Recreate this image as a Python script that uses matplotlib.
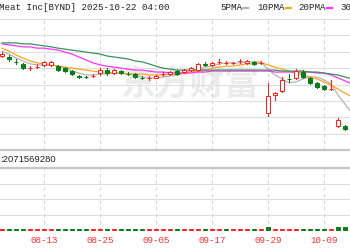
import matplotlib
matplotlib.use("Agg")
import matplotlib.pyplot as plt
from matplotlib.patches import Rectangle

# ---------------- data ----------------
dates = ["08-05","08-06","08-07","08-08","08-11","08-12","08-13","08-14","08-15",
         "08-18","08-19","08-20","08-21","08-22","08-25","08-26","08-27","08-28","08-29",
         "09-02","09-03","09-04","09-05","09-08","09-09","09-10","09-11","09-12",
         "09-15","09-16","09-17","09-18","09-19","09-22","09-23","09-24","09-25","09-26",
         "09-29","09-30","10-01","10-02","10-03","10-06","10-07","10-08","10-09","10-10",
         "10-13","10-14","10-15"]
tick_labels = ["08-13", "08-25", "09-05", "09-17", "09-29", "10-09"]

opens  = [2.87,2.84,2.70,2.63,2.49,2.52,2.60,2.60,2.56,2.50,2.41,2.25,2.24,2.25,2.35,2.44,2.35,2.41,2.33,
          2.32,2.21,2.19,2.21,2.31,2.32,2.41,2.38,2.44,2.44,2.63,2.60,2.68,2.65,2.65,2.71,2.66,2.69,2.65,
          1.13,1.68,1.80,2.18,2.20,2.38,2.20,2.05,1.95,1.85,0.73,0.73,0.64]
highs  = [2.99,2.90,2.78,2.66,2.56,2.63,2.72,2.72,2.60,2.53,2.44,2.29,2.26,2.32,2.50,2.50,2.47,2.44,2.38,
          2.35,2.26,2.26,2.29,2.38,2.41,2.44,2.47,2.53,2.66,2.69,2.69,2.78,2.72,2.69,2.78,2.75,2.72,2.72,
          2.05,1.77,2.23,2.32,2.47,2.44,2.23,2.08,1.98,2.14,0.98,0.76,0.67]
lows   = [2.84,2.72,2.63,2.47,2.44,2.50,2.56,2.57,2.41,2.38,2.29,2.20,2.20,2.23,2.29,2.29,2.32,2.32,2.29,
          2.20,2.17,2.14,2.20,2.26,2.29,2.29,2.35,2.41,2.41,2.56,2.56,2.63,2.63,2.63,2.66,2.63,2.60,2.63,
          1.04,1.53,1.77,2.08,2.17,2.20,2.02,1.89,1.83,1.83,0.70,0.61,0.52]
closes = [2.93,2.78,2.68,2.50,2.50,2.53,2.69,2.69,2.44,2.41,2.32,2.24,2.23,2.26,2.44,2.35,2.44,2.35,2.32,
          2.23,2.20,2.20,2.26,2.32,2.38,2.32,2.44,2.50,2.63,2.60,2.66,2.69,2.66,2.66,2.72,2.72,2.63,2.66,
          1.65,1.74,2.14,2.17,2.41,2.23,2.05,1.92,1.86,1.86,0.92,0.64,0.55]
prev_close_first = 2.80

ma5  = [3.02,2.93,2.81,2.72,2.63,2.60,2.60,2.60,2.56,2.50,2.41,2.35,2.29,2.29,2.32,2.32,2.35,2.35,2.32,
        2.29,2.23,2.20,2.20,2.23,2.26,2.29,2.35,2.41,2.47,2.53,2.56,2.63,2.66,2.66,2.66,2.69,2.69,2.69,
        2.47,2.29,2.17,2.05,2.08,2.17,2.23,2.23,2.14,2.02,1.68,1.40,1.13]
ma10 = [3.11,3.02,2.90,2.81,2.72,2.66,2.63,2.60,2.56,2.53,2.50,2.47,2.44,2.41,2.38,2.38,2.35,2.35,2.32,
        2.32,2.32,2.29,2.29,2.29,2.32,2.32,2.35,2.38,2.41,2.44,2.50,2.53,2.56,2.56,2.60,2.63,2.63,2.66,
        2.60,2.53,2.47,2.41,2.35,2.29,2.23,2.17,2.08,1.98,1.86,1.74,1.62]
ma20 = [3.24,3.21,3.18,3.15,3.15,3.11,3.11,3.08,3.05,2.99,2.93,2.84,2.75,2.66,2.60,2.56,2.53,2.50,2.47,
        2.44,2.44,2.41,2.38,2.38,2.35,2.35,2.35,2.35,2.38,2.38,2.41,2.41,2.41,2.41,2.41,2.41,2.41,2.41,
        2.41,2.38,2.38,2.38,2.38,2.38,2.38,2.35,2.35,2.29,2.20,2.11,2.02]
ma30 = [3.27,3.27,3.27,3.24,3.24,3.21,3.18,3.15,3.11,3.08,3.05,3.02,2.99,2.96,2.93,2.87,2.84,2.81,2.78,
        2.72,2.69,2.63,2.56,2.50,2.47,2.44,2.44,2.44,2.44,2.44,2.44,2.44,2.44,2.44,2.44,2.44,2.44,2.44,
        2.44,2.44,2.41,2.41,2.41,2.41,2.38,2.38,2.35,2.32,2.29,2.23,2.17]

volumes = [45,42,42,42,40,40,40,40,40,40,40,40,40,40,40,40,40,40,40,
           40,40,40,40,40,40,40,40,40,40,40,40,40,40,40,40,40,40,40,
           100,45,45,42,42,42,42,42,42,42,110,100,100]
vol_label = ":2071569280"
vol_max = 2071.56928
title = "Meat Inc[BYND] 2025-10-22 04:00"
legend_names = ["5PMA", "10PMA", "20PMA", "30PMA"]

# ---------------- style ----------------
W, H = 350, 250
RED = "#ff2020"
GREEN = "#0a7d1a"
MA_COLORS = ["#b4b4b4", "#f5a623", "#ff33ff", "#3d8f5f"]
GRID = "#dedede"
MONO = ["Liberation Mono", "DejaVu Sans Mono"]

fig = plt.figure(figsize=(W / 100, H / 100), dpi=100)
fig.patch.set_facecolor("white")

def px(x0, y0, x1, y1):
    return [x0 / W, 1 - y1 / H, (x1 - x0) / W, (y1 - y0) / H]

ax = fig.add_axes(px(0, 19, W, 150))
axv = fig.add_axes(px(0, 168, W, 230))

n = len(closes)
xs = list(range(n))
xlim = (-2 / 7, 348 / 7)
tick_pos = [dates.index(t) for t in tick_labels]

# watermark
ax.text(0.545, 0.50, "东方财富", transform=ax.transAxes, ha="center", va="center",
        fontsize=25, color="#ebebeb", family=["Noto Sans CJK SC"], fontweight="bold", zorder=0)

for a in (ax, axv):
    a.set_xlim(*xlim)
    a.set_xticks(tick_pos)
    a.tick_params(length=0)
    a.grid(axis="x", color="#d4d4d4", linestyle=(0, (3, 3)), linewidth=0.8)
    a.grid(axis="y", color=GRID, linewidth=0.8)
    a.set_axisbelow(True)
    a.set_yticklabels([])
    for s in ("left", "right"):
        a.spines[s].set_visible(False)

ax.set_ylim(0, 4)
ax.set_yticks([0.5 * k for k in range(1, 8)])
ax.set_xticklabels([])
ax.spines["top"].set_color(GRID)
ax.spines["top"].set_linewidth(0.8)
ax.spines["bottom"].set_color("#c6c6c6")
ax.spines["bottom"].set_linewidth(1.6)

axv.set_ylim(0, vol_max)
axv.set_yticks([vol_max * f for f in (0.25, 0.5, 0.75)])
axv.spines["top"].set_color("#c6c6c6")
axv.spines["top"].set_linewidth(1.6)
axv.spines["bottom"].set_visible(False)
axv.set_xticklabels(tick_labels, color="#ff3030", fontsize=6.6, family=MONO)
axv.tick_params(axis="x", pad=4)

# moving averages
for vals, c in zip([ma5, ma10, ma20, ma30], MA_COLORS):
    ax.plot(xs, vals, color=c, linewidth=0.9, zorder=2)

# candles
bw = 0.62
for i in range(n):
    o, h, l, c = opens[i], highs[i], lows[i], closes[i]
    up = c >= o
    col = RED if up else GREEN
    ax.plot([i, i], [l, h], color=col, linewidth=0.75, zorder=3)
    lo, hi = min(o, c), max(o, c)
    ax.add_patch(Rectangle((i - bw / 2, lo), bw, max(hi - lo, 0.001),
                           facecolor="white" if up else col, edgecolor=col,
                           linewidth=0.75, zorder=4))

# volume (coloured by change against the previous close)
prev = [prev_close_first] + closes[:-1]
for i in range(n):
    col = RED if closes[i] >= prev[i] else GREEN
    bars = axv.bar(i, volumes[i], width=0.66, color=col, edgecolor=col,
                   linewidth=0.7, zorder=3)
    for b in bars:
        b.set_clip_on(False)

# texts
fig.text(-1 / W, 1 - 8 / H, title, ha="left", va="center", fontsize=6.6,
         family=MONO, color="#222222")
leg_x = [220, 257, 298, 340]
for name, x0, c in zip(legend_names, leg_x, MA_COLORS):
    fig.text(x0 / W, 1 - 8 / H, name, ha="left", va="center", fontsize=6.6,
             family=MONO, color="#222222")
    xe = x0 + 5.3 * len(name) + 2
    fig.add_artist(plt.Line2D([xe / W, (xe + 5) / W], [1 - 8 / H, 1 - 8 / H],
                              color=c, linewidth=1.6))
fig.text(0 / W, 1 - 160 / H, vol_label, ha="left", va="center", fontsize=6.8,
         family=["Liberation Sans", "DejaVu Sans"], color="#222222")

fig.savefig("out.png", dpi=100, facecolor="white")
